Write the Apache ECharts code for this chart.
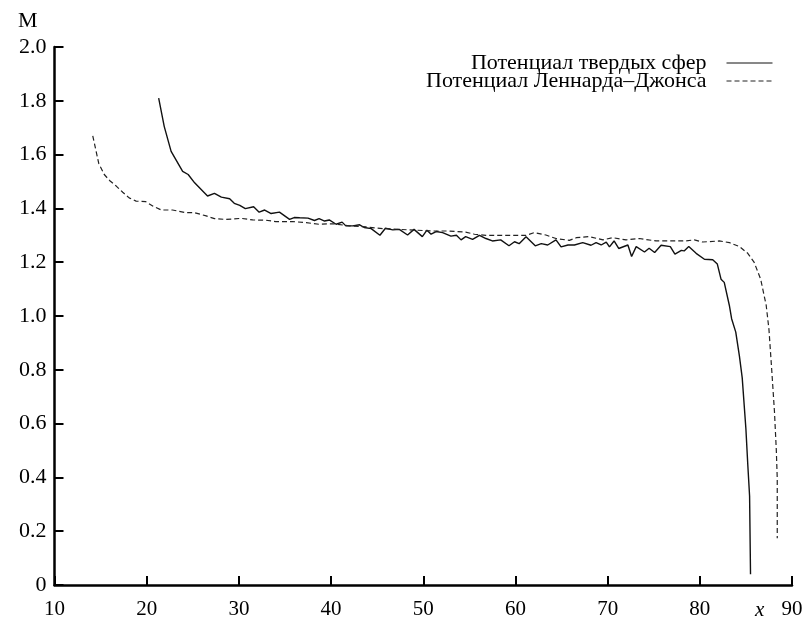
<!DOCTYPE html>
<html>
<head>
<meta charset="utf-8">
<script src="https://cdn.jsdelivr.net/npm/echarts@6/dist/echarts.min.js"></script>
<style>html,body{margin:0;padding:0;background:#fff}#c{width:810px;height:621px}</style>
</head>
<body>
<div id="c"></div>
<script>
// Hard-sphere potential (solid)
const hsX = [21.3,21.9,22.65,23.9,24.5,25.2,26.6,27.35,28.1,29.0,29.5,30.1,30.7,31.6,32.2,32.8,33.5,34.4,35.5,36.0,36.6,37.5,38.2,38.7,39.3,39.8,40.55,41.2,41.6,42.35,43.1,43.6,44.35,45.3,45.9,46.7,47.4,48.3,49.0,49.9,50.4,50.85,51.4,52.1,53.0,53.6,54.1,54.6,55.35,56.1,56.8,57.5,58.4,59.3,59.9,60.4,61.15,62.15,62.8,63.5,64.4,64.95,65.7,66.4,67.3,68.2,68.75,69.3,69.85,70.2,70.7,71.2,72.2,72.6,73.1,74.0,74.5,75.1,75.8,76.8,77.3,78.0,78.3,78.8,79.6,80.5,81.4,81.9,82.3,82.65,83.2,83.45,83.9,84.3,84.6,85.0,85.2,85.4,85.5];
const hsY = [1.81,1.705,1.612,1.538,1.526,1.495,1.446,1.456,1.442,1.436,1.419,1.411,1.399,1.406,1.386,1.394,1.381,1.386,1.359,1.366,1.365,1.364,1.355,1.362,1.353,1.357,1.341,1.349,1.335,1.335,1.339,1.329,1.325,1.300,1.326,1.320,1.322,1.301,1.322,1.295,1.319,1.304,1.314,1.310,1.297,1.300,1.283,1.295,1.285,1.300,1.288,1.279,1.283,1.261,1.276,1.269,1.295,1.261,1.269,1.264,1.283,1.257,1.264,1.264,1.273,1.263,1.273,1.264,1.275,1.257,1.279,1.251,1.264,1.221,1.258,1.238,1.252,1.236,1.263,1.258,1.230,1.244,1.242,1.258,1.233,1.211,1.209,1.193,1.137,1.125,1.04,0.99,0.94,0.85,0.77,0.58,0.45,0.33,0.04];
// Lennard-Jones potential (dashed)
const ljX = [14.15,14.8,15.4,15.97,16.7,17.4,18.1,18.85,19.9,20.7,21.6,22.8,24.3,25.2,26.45,27.35,28.6,30.25,31.5,32.95,34.0,35.85,37.3,38.7,40.2,42.0,43.8,45.6,47.4,49.2,51.0,52.8,54.6,55.55,56.8,58.3,60.1,61.15,62.05,63.3,64.4,65.85,66.6,68.0,69.5,70.55,72.0,73.45,75.25,77.05,78.5,79.4,80.3,82.1,83.2,84.3,85.2,85.9,86.6,87.2,87.5,87.8,88.1,88.3,88.4,88.4];
const ljY = [1.670,1.567,1.526,1.504,1.483,1.460,1.439,1.427,1.425,1.408,1.394,1.394,1.384,1.384,1.372,1.362,1.359,1.363,1.357,1.356,1.351,1.351,1.347,1.341,1.343,1.335,1.331,1.325,1.322,1.319,1.316,1.316,1.312,1.304,1.300,1.300,1.300,1.300,1.310,1.301,1.288,1.281,1.291,1.295,1.283,1.291,1.283,1.288,1.279,1.279,1.279,1.283,1.275,1.279,1.273,1.258,1.233,1.199,1.137,1.04,0.95,0.80,0.643,0.50,0.396,0.174];
const seriesNames = ['Потенциал твердых сфер', 'Потенциал Леннарда–Джонса'];
const xTicks = [10,20,30,40,50,60,70,80,90];
const yTicks = [0,0.2,0.4,0.6,0.8,1.0,1.2,1.4,1.6,1.8,2.0];

const zip = (xs, ys) => xs.map((x, i) => [x, ys[i]]);
const FONT = 'Liberation Serif';

const chart = echarts.init(document.getElementById('c'), null, {renderer: 'canvas'});
chart.setOption({
  animation: false,
  backgroundColor: '#fff',
  grid: {left: 54.5, right: 18, top: 47, bottom: 36, containLabel: false},
  legend: {
    orient: 'vertical', align: 'right', right: 32, top: 47,
    itemWidth: 46, itemHeight: 8, itemGap: -4,
    data: seriesNames,
    itemStyle: {color: 'rgba(0,0,0,0)', borderColor: 'rgba(0,0,0,0)', borderWidth: 0},
    lineStyle: {width: 1},
    textStyle: {fontFamily: FONT, fontSize: 22, color: '#000', lineHeight: 18, padding: [0, 15, 0, 0]}
  },
  xAxis: {
    type: 'value', min: xTicks[0], max: xTicks[xTicks.length - 1], interval: 10,
    axisLine: {lineStyle: {color: '#000', width: 2.5}},
    axisTick: {inside: true, length: 9, lineStyle: {color: '#000', width: 2}},
    axisLabel: {fontFamily: FONT, fontSize: 21, color: '#000', margin: 14},
    splitLine: {show: false}
  },
  yAxis: {
    type: 'value', min: yTicks[0], max: yTicks[yTicks.length - 1], interval: 0.2,
    axisLine: {show: true, lineStyle: {color: '#000', width: 2.5}},
    axisTick: {show: true, inside: true, length: 9, lineStyle: {color: '#000', width: 2}},
    axisLabel: {fontFamily: FONT, fontSize: 22, color: '#000', margin: 8,
      formatter: v => v === 0 ? '0' : v.toFixed(1)},
    splitLine: {show: false}
  },
  graphic: [
    {type: 'text', left: 18, top: 10, style: {text: 'M', font: '22px "Liberation Serif"', fill: '#000'}},
    {type: 'text', left: 755, top: 600, style: {text: 'x', font: 'italic 21px "Liberation Serif"', fill: '#000'}}
  ],
  series: [
    {name: seriesNames[0], type: 'line', data: zip(hsX, hsY), symbol: 'none',
     lineStyle: {color: '#111', width: 1.4, type: 'solid'}},
    {name: seriesNames[1], type: 'line', data: zip(ljX, ljY), symbol: 'none',
     lineStyle: {color: '#222', width: 1.2, type: [5, 3]}}
  ]
});
</script>
</body>
</html>
